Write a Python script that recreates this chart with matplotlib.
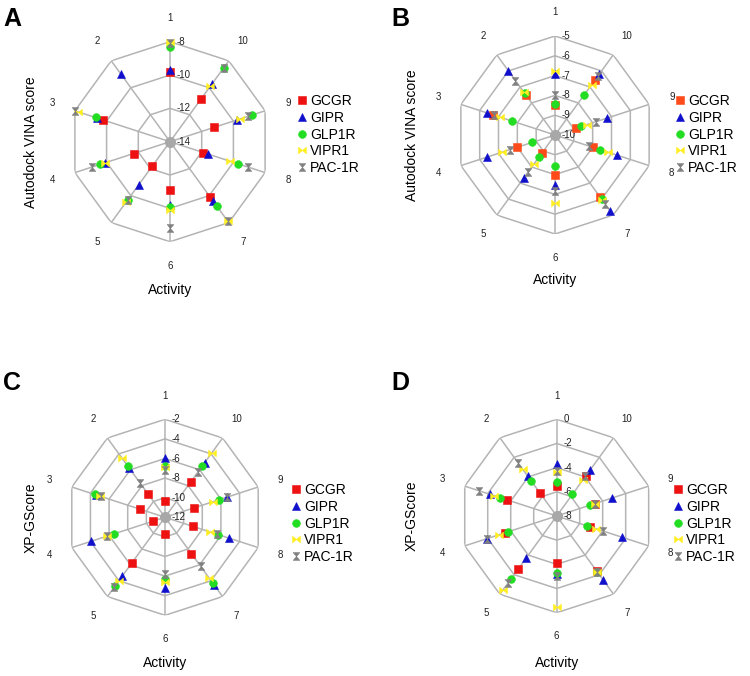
# -*- coding: utf-8 -*-
import numpy as np
import matplotlib
matplotlib.use('Agg')
import matplotlib.pyplot as plt

plt.rcParams['font.family'] = ['Liberation Sans', 'DejaVu Sans']

activity = ['1', '2', '3', '4', '5', '6', '7', '8', '9', '10']
receptors = ['GCGR', 'GIPR', 'GLP1R', 'VIPR1', 'PAC-1R']
nan = np.nan

# A: Autodock VINA score
a_gcgr = [-9.8, nan, -9.8, -11.7, -12.2, -11.1, -9.9, -11.9, -11.2, -10.8]
a_gipr = [-9.7, -9.0, -9.4, -9.9, -10.8, -10.2, -9.6, -11.6, -9.8, -9.7]
a_glp1r = [-8.3, nan, -9.3, -9.6, -9.7, -10.1, -9.2, -9.7, -8.8, -8.5]
a_vipr1 = [-8.0, nan, -8.2, -9.9, -9.5, -9.9, -8.1, -10.2, -9.6, -9.9]
a_pac1r = [-8.1, nan, -8.0, -9.1, -9.7, -8.8, -8.1, -9.1, -9.1, -8.5]
a_ticks = [-14, -12, -10, -8]

# B: Autodock VINA score
b_gcgr = [-8.5, -7.5, -6.7, -8.0, -8.85, -8.0, -6.1, -8.0, -8.9, -6.55]
b_gipr = [-6.9, -6.0, -6.4, -6.4, -7.3, -7.45, -5.25, -6.7, -7.25, -6.2]
b_glp1r = [-8.45, -7.4, -7.7, -8.8, -8.65, -8.45, -6.0, -7.6, -8.6, -7.5]
b_vipr1 = [-6.77, -7.3, -7.1, -7.2, -8.2, -6.55, -5.95, -7.2, -8.3, -6.85]
b_pac1r = [-8.0, -6.6, -6.75, -7.6, -7.7, -7.15, -5.7, -8.2, -7.8, -6.3]
b_ticks = [-10, -9, -8, -7, -6, -5]

# C: XP-GScore
c_gcgr = [-10.3, -9.1, -9.3, -10.7, -6.2, -10.3, -7.4, -9.0, -8.9, -7.5]
c_gipr = [-6.0, -5.8, -4.6, -4.1, -4.6, -4.8, -3.5, -5.1, -5.4, -5.1]
c_glp1r = [-6.76, -5.5, -4.45, -6.5, -3.3, -5.7, -3.7, -6.3, -6.25, -5.55]
c_vipr1 = [-6.9, -4.5, -5.05, -5.8, -4.0, -5.4, -4.3, -7.2, -6.8, -3.85]
c_pac1r = [-7.2, -7.7, -5.1, -5.8, -3.2, -6.2, -5.8, -6.45, -5.4, -6.3]
c_ticks = [-12, -10, -8, -6, -4, -2]

# D: XP-GScore
d_gcgr = [-5.5, -5.6, -3.7, -3.5, -2.6, -4.1, -2.35, -5.1, -4.7, -3.9]
d_gipr = [-3.7, -3.9, -2.2, -1.9, -3.7, -3.2, -1.45, -2.3, -3.2, -3.25]
d_glp1r = [-5.15, -4.45, -3.1, -3.75, -1.55, -3.3, -2.3, -5.4, -5.1, -5.8]
d_vipr1 = [-4.4, -3.2, -2.55, -3.0, -0.45, -0.5, -2.3, -4.6, -4.7, -4.3]
d_pac1r = [-4.3, -2.57, -1.2, -1.9, -1.1, -3.0, -2.3, -3.95, -4.7, -3.95]
d_ticks = [-8, -6, -4, -2, 0]

W, H = 750, 676
grid_col = '#b4b4b4'
bowtie = [(-1, -0.85), (1, 0.85), (1, -0.85), (-1, 0.85), (-1, -0.85)]
hourglass = [(-0.85, 1), (0.85, 1), (-0.85, -1), (0.85, -1), (-0.85, 1)]
markers = ['s', '^', 'o', bowtie, hourglass]
sizes = [5.2, 5.6, 5.6, 5.6, 5.6]
colors = ['#ee1111', '#1010cc', '#22dd22', '#ffee22', '#808080']


def px_ax(cx, cy, r):
    return [(cx - r) / W, 1 - (cy + r) / H, 2 * r / W, 2 * r / H]


def panel(fig, cx, cy, rad, series, ticks, red, letter, ylabel, leg_xy, act_y):
    ax = fig.add_axes(px_ax(cx, cy, rad), projection='polar')
    ax.set_theta_zero_location('N')
    ax.set_theta_direction(1)
    rmin, rmax = ticks[0], ticks[-1]
    ax.set_ylim(rmin, rmax)
    ax.set_xticks([])
    ax.set_yticks([])
    ax.grid(False)
    ax.spines['polar'].set_visible(False)
    ax.patch.set_alpha(0)

    theta = np.arange(10) * 2 * np.pi / 10
    tc = np.append(theta, theta[0])
    for r in ticks[1:]:
        ax.plot(tc, [r] * 11, color=grid_col, lw=1.1, zorder=1)
    for t in theta:
        ax.plot([t, t], [rmin, rmax], color=grid_col, lw=1.1, zorder=1)
    ax.plot([0], [rmin], 'o', color='#a8a8a8', ms=7, zorder=1)

    for r in ticks:
        ax.annotate(str(r), xy=(0, r), xytext=(5, 0), textcoords='offset points',
                    ha='left', va='center', fontsize=7, color='#222222')
    for t, lab in zip(theta, activity):
        ax.text(t, rmin + 1.24 * (rmax - rmin), lab, ha='center', va='center',
                fontsize=7, color='#222222')

    cols = [red] + colors[1:]
    for vals, name, m, c, s in zip(series, receptors, markers, cols, sizes):
        ax.plot(theta, vals, linestyle='none', marker=m, color=c, ms=s,
                mec=c, mew=0.4, label=name, zorder=3, clip_on=False)

    ax.legend(loc='upper left', bbox_to_anchor=(leg_xy[0] / W, 1 - leg_xy[1] / H),
              bbox_transform=fig.transFigure, frameon=False, fontsize=10,
              handlelength=0.7, handletextpad=0.25, labelspacing=0.2,
              borderpad=0, borderaxespad=0)

    fig.text((cx) / W, 1 - act_y / H, 'Activity', ha='center', va='center', fontsize=10)
    lx = 31 if cx < 375 else 412
    fig.text(lx / W, 1 - cy / H, ylabel, rotation=90, ha='center', va='center', fontsize=10)
    ltx = 3 if cx < 375 else 391
    lty = 7 if cy < 338 else 371
    fig.text(ltx / W, 1 - lty / H, letter, ha='left', va='top', fontsize=18,
             fontweight='bold')
    return ax


def main():
    fig = plt.figure(figsize=(W / 100, H / 100), dpi=100)
    panel(fig, 170, 141.7, 100, [a_gcgr, a_gipr, a_glp1r, a_vipr1, a_pac1r],
          a_ticks, '#ee1111', 'A', 'Autodock VINA score', (297, 94), 290)
    panel(fig, 555, 135, 99, [b_gcgr, b_gipr, b_glp1r, b_vipr1, b_pac1r],
          b_ticks, '#ff4a1a', 'B', 'Autodock VINA score', (675, 94), 280)
    panel(fig, 165, 517.3, 98, [c_gcgr, c_gipr, c_glp1r, c_vipr1, c_pac1r],
          c_ticks, '#ee1111', 'C', 'XP-GScore', (291, 483), 663)
    panel(fig, 556.7, 516, 96.7, [d_gcgr, d_gipr, d_glp1r, d_vipr1, d_pac1r],
          d_ticks, '#ee1111', 'D', 'XP-GScore', (673, 483), 663)
    fig.savefig('out.png', dpi=100)


if __name__ == '__main__':
    main()
